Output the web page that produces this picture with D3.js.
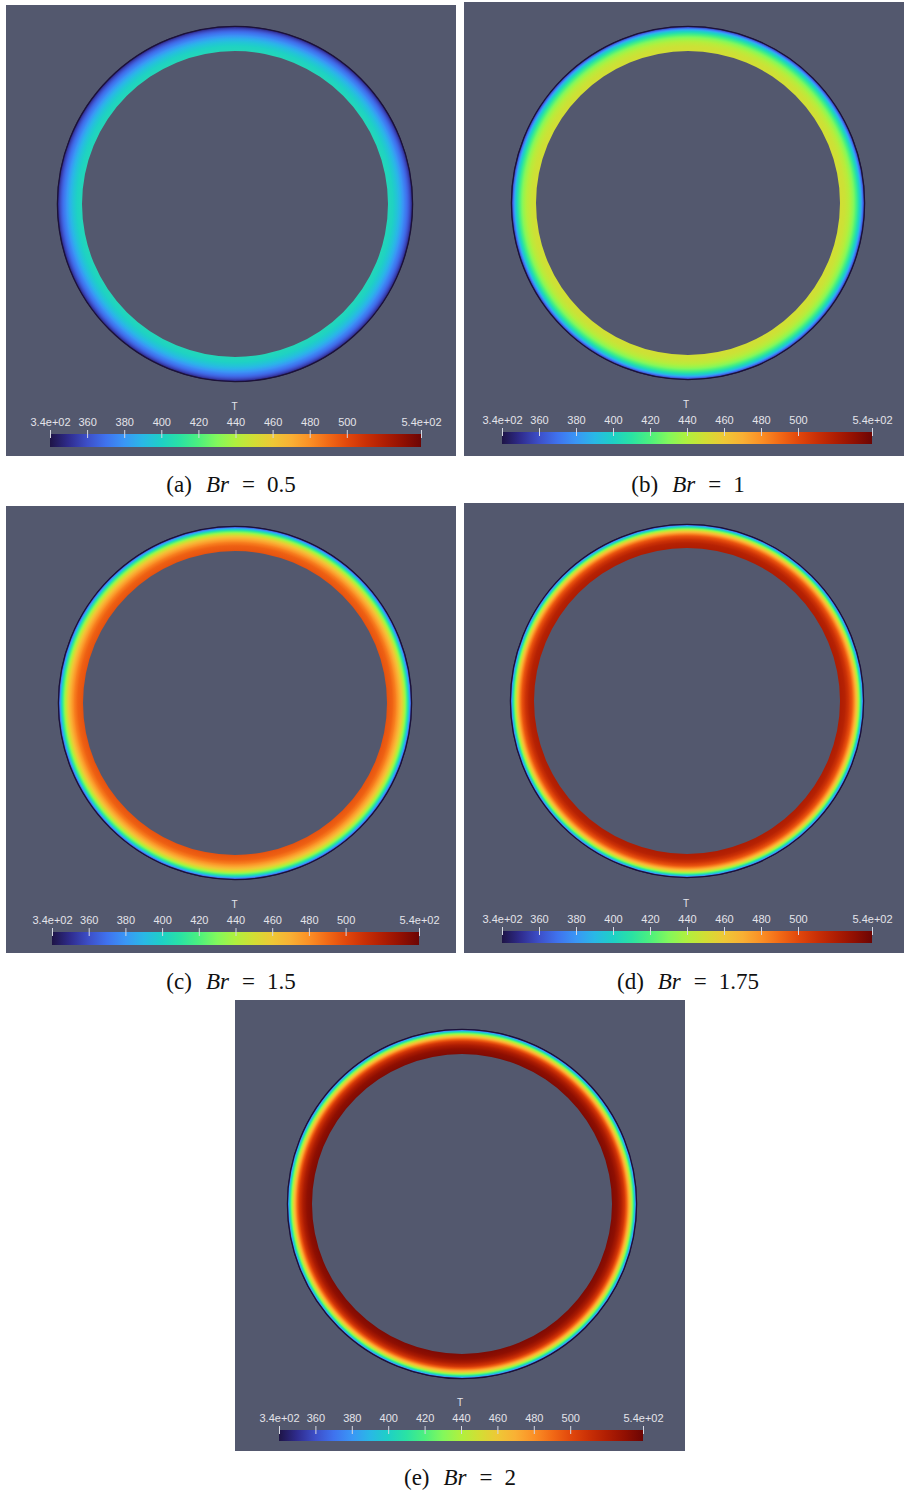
<!DOCTYPE html>
<html>
<head>
<meta charset="utf-8">
<script src="https://cdn.jsdelivr.net/npm/d3@7"></script>
<style>
  html, body { margin: 0; padding: 0; background: #ffffff; }
  svg { display: block; }
</style>
</head>
<body>
<svg id="fig" width="904" height="1494"></svg>
<script>
// Brinkman numbers of the five cases
const panelKeys = ["a", "b", "c", "d", "e"];
const brValues = [0.5, 1, 1.5, 1.75, 2];

// Radial stations across the gap: 0 = outer wall, 1 = inner boundary
const radialStations = [0, 0.05, 0.1, 0.15, 0.2, 0.3, 0.4, 0.5, 0.65, 0.8, 1];

// Temperature T at each radial station, one list per case
const tempBr05  = [340, 350, 356, 361, 366, 373, 380, 387, 395, 401, 404];
const tempBr1   = [340, 358, 372, 386, 397, 413, 425, 434, 443, 448, 450];
const tempBr15  = [340, 365, 385, 403, 418, 440, 457, 470, 484, 493, 497];
const tempBr175 = [340, 370, 394, 414, 431, 459, 480, 496, 509, 518, 521];
const tempBr2   = [340, 373, 399, 419, 436, 465, 489, 507, 522, 531, 535];
const tempSeries = [tempBr05, tempBr1, tempBr15, tempBr175, tempBr2];

// Colour bar range and ticks
const tempDomain = [340, 540];
const tickValues = [340, 360, 380, 400, 420, 440, 460, 480, 500, 540];
const tickLabels = ["3.4e+02", "360", "380", "400", "420", "440", "460", "480", "500", "5.4e+02"];
const barTitle = "T";

// Colour map (rainbow / turbo-like), positions in [0,1]
const cmapPos = [0, 0.05, 0.1, 0.15, 0.2, 0.25, 0.3, 0.35, 0.4, 0.45, 0.5, 0.55, 0.6, 0.65, 0.7, 0.75, 0.8, 0.85, 0.9, 0.95, 1];
const cmapCol = ["#1e1446", "#2f2c8e", "#3d4fc8", "#3f72ee", "#3a96f6", "#29b8e6", "#1ed0c6", "#2ae2a4",
                 "#4cf07e", "#82f85c", "#b0f03e", "#d2de34", "#eec836", "#f9b034", "#fb9026", "#f26a16",
                 "#e2480c", "#ca3006", "#b01e03", "#921002", "#6c0504"];

// Layout of each panel (frame, ring, colour bar, caption)
const layout = [
  { x: 6,   y: 5,    w: 450, h: 451, cx: 235, cy: 204,  ro: 178, ri: 153, bx0: 50,  bx1: 421, by: 434,  bh: 13, capX: 231, capY: 492 },
  { x: 464, y: 2,    w: 440, h: 454, cx: 688, cy: 203,  ro: 177, ri: 152, bx0: 502, bx1: 872, by: 432,  bh: 12, capX: 688, capY: 492 },
  { x: 6,   y: 506,  w: 450, h: 447, cx: 235, cy: 703,  ro: 177, ri: 152, bx0: 52,  bx1: 419, by: 932,  bh: 13, capX: 231, capY: 989 },
  { x: 464, y: 503,  w: 440, h: 450, cx: 687, cy: 701,  ro: 177, ri: 153, bx0: 502, bx1: 872, by: 931,  bh: 12, capX: 688, capY: 989 },
  { x: 235, y: 1000, w: 450, h: 451, cx: 462, cy: 1204, ro: 175, ri: 150, bx0: 279, bx1: 643, by: 1430, bh: 11, capX: 460, capY: 1485 }
];

const svg = d3.select("#fig");
const defs = svg.append("defs");

// temperature -> colour
const cmap = d3.scaleLinear().domain(cmapPos).range(cmapCol).interpolate(d3.interpolateRgb).clamp(true);
const tNorm = d3.scaleLinear().domain(tempDomain).range([0, 1]).clamp(true);
const colorOf = T => cmap(tNorm(T));

const arc = d3.arc();

layout.forEach((L, i) => {
  const g = svg.append("g");

  // render-window background
  g.append("rect")
    .attr("x", L.x).attr("y", L.y).attr("width", L.w).attr("height", L.h)
    .attr("fill", "#53586e");

  // radial temperature profile: gap fraction -> T, radius -> gap fraction
  const profile = d3.scaleLinear().domain(radialStations).range(tempSeries[i]);
  const gapOf = d3.scaleLinear().domain([L.ro, L.ri]).range([0, 1]);

  // gradient lives in the ring's local (translated) coordinates
  const gradId = "ring-" + panelKeys[i];
  const rg = defs.append("radialGradient")
    .attr("id", gradId)
    .attr("gradientUnits", "userSpaceOnUse")
    .attr("cx", 0).attr("cy", 0).attr("fx", 0).attr("fy", 0)
    .attr("r", L.ro);
  const nSteps = 60;
  d3.range(nSteps + 1).forEach(k => {
    const r = L.ri + (L.ro - L.ri) * k / nSteps;
    rg.append("stop")
      .attr("offset", r / L.ro)
      .attr("stop-color", colorOf(profile(gapOf(r))));
  });

  const ring = g.append("g").attr("transform", `translate(${L.cx},${L.cy})`);
  ring.append("path")
    .attr("d", arc({ innerRadius: L.ri, outerRadius: L.ro, startAngle: 0, endAngle: 2 * Math.PI }))
    .attr("fill", `url(#${gradId})`);

  // outer wall outline
  ring.append("circle")
    .attr("r", L.ro - 0.4)
    .attr("fill", "none").attr("stroke", "#1c1238").attr("stroke-width", 1.3);

  // colour bar
  const xs = d3.scaleLinear().domain(tempDomain).range([L.bx0, L.bx1]);
  const lgId = "bar-" + panelKeys[i];
  const lg = defs.append("linearGradient")
    .attr("id", lgId)
    .attr("gradientUnits", "userSpaceOnUse")
    .attr("x1", L.bx0).attr("x2", L.bx1).attr("y1", 0).attr("y2", 0);
  cmapPos.forEach((p, k) => {
    lg.append("stop").attr("offset", p).attr("stop-color", cmapCol[k]);
  });
  g.append("rect")
    .attr("x", L.bx0).attr("y", L.by).attr("width", L.bx1 - L.bx0).attr("height", L.bh)
    .attr("fill", `url(#${lgId})`);

  // ticks and labels
  const axis = d3.axisTop(xs)
    .tickValues(tickValues)
    .tickFormat((d, k) => tickLabels[k])
    .tickSize(0)
    .tickPadding(8);
  const ax = g.append("g")
    .attr("transform", `translate(0,${L.by})`)
    .call(axis);
  ax.select(".domain").remove();
  ax.selectAll(".tick text")
    .attr("fill", "#e4e4ea")
    .attr("font-family", "'Liberation Sans', Arial, sans-serif")
    .attr("font-size", 11);
  ax.selectAll(".tick").append("line")
    .attr("y1", -4).attr("y2", 4)
    .attr("stroke", "#d6d8e2").attr("stroke-width", 1);

  g.append("text")
    .attr("x", xs(440) - 1).attr("y", L.by - 24)
    .attr("text-anchor", "middle")
    .attr("fill", "#e4e4ea")
    .attr("font-family", "'Liberation Sans', Arial, sans-serif")
    .attr("font-size", 10)
    .text(barTitle);

  // caption
  const cap = svg.append("text")
    .attr("x", L.capX).attr("y", L.capY)
    .attr("text-anchor", "middle")
    .attr("font-family", "'Liberation Serif', 'DejaVu Serif', serif")
    .attr("font-size", 23)
    .attr("fill", "#111");
  cap.append("tspan").text(`(${panelKeys[i]})`);
  cap.append("tspan").attr("dx", 14).attr("font-style", "italic").text("Br");
  cap.append("tspan").attr("dx", 13).text("=");
  cap.append("tspan").attr("dx", 12).text(String(brValues[i]));
});
</script>
</body>
</html>
